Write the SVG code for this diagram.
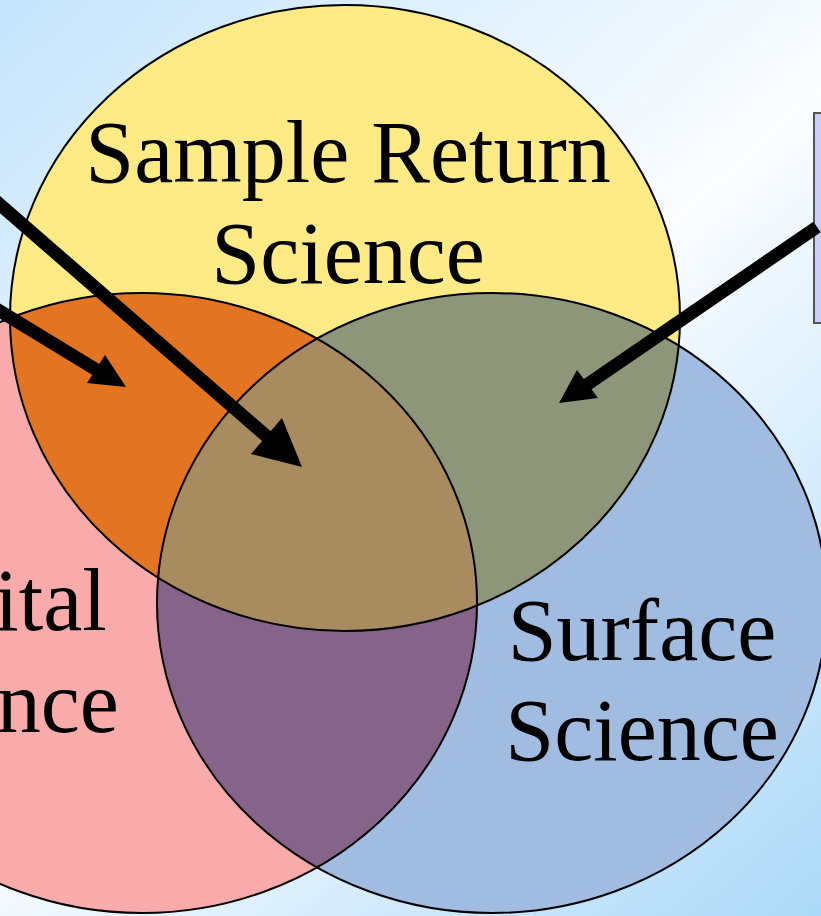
<svg xmlns="http://www.w3.org/2000/svg" width="821" height="916" viewBox="0 0 821 916">
  <style>
    .lbl { font-family: "Liberation Serif", "Times New Roman", serif; font-size: 88px; fill: #000; text-anchor: middle; }
    .ring { fill: none; stroke: #000; stroke-width: 2; }
    .shaft { stroke: #000; stroke-width: 13; fill: none; }
    .head { fill: #000; }
  </style>
  <defs>
    <linearGradient id="bg" x1="0" y1="0" x2="821" y2="916" gradientUnits="userSpaceOnUse">
      <stop offset="0" stop-color="#c4e4fc"/>
      <stop offset="0.5" stop-color="#fbfdff"/>
      <stop offset="1" stop-color="#acd9f8"/>
    </linearGradient>
    <clipPath id="cY"><ellipse cx="345" cy="318" rx="335" ry="313"/></clipPath>
    <clipPath id="cP"><ellipse cx="142" cy="603" rx="335" ry="310"/></clipPath>
    <clipPath id="cB"><ellipse cx="492" cy="603" rx="335" ry="310"/></clipPath>
  </defs>

  <rect x="0" y="0" width="821" height="916" fill="url(#bg)"/>

  <g id="sample-return">
    <ellipse cx="345" cy="318" rx="335" ry="313" fill="#ffeb85"/>
  </g>
  <g id="orbital">
    <ellipse cx="142" cy="603" rx="335" ry="310" fill="#f8abaa"/>
  </g>
  <g id="surface">
    <ellipse cx="492" cy="603" rx="335" ry="310" fill="#a0bce0"/>
  </g>

  <g id="overlaps">
    <g clip-path="url(#cY)"><ellipse cx="142" cy="603" rx="335" ry="310" fill="#e37421"/></g>
    <g clip-path="url(#cY)"><ellipse cx="492" cy="603" rx="335" ry="310" fill="#8e967a"/></g>
    <g clip-path="url(#cP)"><ellipse cx="492" cy="603" rx="335" ry="310" fill="#866489"/></g>
    <g clip-path="url(#cY)"><g clip-path="url(#cP)"><ellipse cx="492" cy="603" rx="335" ry="310" fill="#a88c5f"/></g></g>
  </g>

  <g id="outlines">
    <ellipse class="ring" cx="345" cy="318" rx="335" ry="313"/>
    <ellipse class="ring" cx="142" cy="603" rx="335" ry="310"/>
    <ellipse class="ring" cx="492" cy="603" rx="335" ry="310"/>
  </g>

  <g id="labels">
    <text class="lbl" x="348" y="182">Sample Return</text>
    <text class="lbl" x="348" y="283">Science</text>
    <text class="lbl" x="-18" y="630">Orbital</text>
    <text class="lbl" x="-18" y="732">Science</text>
    <text class="lbl" x="642" y="660">Surface</text>
    <text class="lbl" x="642" y="760">Science</text>
  </g>

  <g id="note-box">
    <rect x="814" y="113" width="20" height="210" fill="#ccccff" stroke="#555" stroke-width="2"/>
  </g>

  <g id="connectors">
    <line class="shaft" x1="-10" y1="196" x2="272" y2="441"/>
    <polygon class="head" points="302,467 282,418 251,454"/>
    <line class="shaft" x1="-10" y1="305" x2="100" y2="372"/>
    <polygon class="head" points="126,387 105,355 87,383"/>
    <line class="shaft" x1="817" y1="227" x2="585" y2="386"/>
    <polygon class="head" points="559,403 577,370 598,398"/>
  </g>
</svg>
